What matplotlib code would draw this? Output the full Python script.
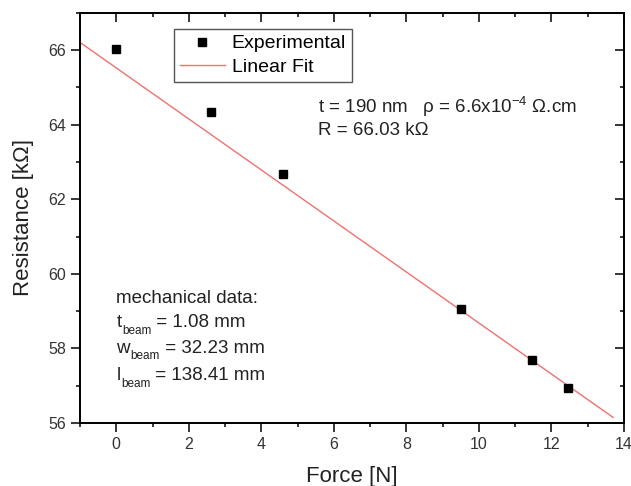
import matplotlib
matplotlib.use("Agg")
import matplotlib.pyplot as plt
from matplotlib.ticker import MultipleLocator
import numpy as np

plt.rcParams["font.family"] = ["Liberation Sans", "DejaVu Sans"]
plt.rcParams["mathtext.fontset"] = "custom"
plt.rcParams["mathtext.rm"] = "Liberation Sans"
plt.rcParams["mathtext.it"] = "Liberation Sans:italic"

# data
force = [0.0, 2.62, 4.60, 9.50, 11.45, 12.45]
resistance = [66.03, 64.35, 62.68, 59.05, 57.68, 56.95]
# linear fit: R = intercept + slope * F, drawn over this force range
fit_intercept = 65.52
fit_slope = -0.684
fit_range = [-1.0, 13.7]

# mechanical data lines: (symbol, subscript, rest)
mech_lines = [("t", "beam", " = 1.08 mm"),
              ("w", "beam", " = 32.23 mm"),
              ("l", "beam", " = 138.41 mm")]

W, H = 631, 486
fig = plt.figure(figsize=(W / 100, H / 100), dpi=100)
ax = fig.add_axes([80 / W, 1 - 423 / H, (624 - 80) / W, (423 - 12.7) / H])

fx = np.array(fit_range)
ax.plot(fx, fit_intercept + fit_slope * fx, color="#f07070", lw=1.0,
        label="Linear Fit", zorder=2)
ax.plot(force, resistance, "s", color="black", markersize=5.5,
        linestyle="none", label="Experimental", zorder=3)

ax.set_xlim(-1, 14)
ax.set_ylim(56, 67)


def style_axis(axis, direction, labels):
    axis.set_major_locator(MultipleLocator(2))
    axis.set_minor_locator(MultipleLocator(1))
    axis.set_tick_params(which="both", direction=direction, width=1.1)
    axis.set_tick_params(which="major", length=6.5, labelsize=11.5,
                         labelcolor="#333333", pad=3.5)
    axis.set_tick_params(which="minor", length=3)
    if not labels:
        axis.set_tick_params(which="both", labeltop=False,
                             labelright=False)


style_axis(ax.xaxis, "out", True)
style_axis(ax.yaxis, "out", True)
# top / right ticks point inward
top = ax.twiny()
right = ax.twinx()
top.set_xlim(ax.get_xlim())
right.set_ylim(ax.get_ylim())
style_axis(top.xaxis, "in", False)
style_axis(right.yaxis, "in", False)
top.yaxis.set_visible(False)
right.xaxis.set_visible(False)
for a in (ax, top, right):
    for s in a.spines.values():
        s.set_linewidth(1.1)

ax.set_xlabel("Force [N]", fontsize=16, color="#222222", labelpad=10)
ax.set_ylabel("Resistance [k\u03a9]", fontsize=16, color="#222222",
              labelpad=10)

handles, labels = ax.get_legend_handles_labels()
leg = ax.legend(handles[::-1], labels[::-1], loc="upper left",
                bbox_to_anchor=((174 - 80) / 544, 1 - (29 - 12.7) / 410.3),
                borderaxespad=0, fontsize=14, frameon=True, fancybox=False,
                edgecolor="#555555", handlelength=2.3, handletextpad=0.36,
                borderpad=0.3, labelspacing=0.3, framealpha=1)
leg.get_frame().set_linewidth(1.0)

ax.text(5.57, 64.31,
        "t = 190 nm   \u03c1 = 6.6x10$^{-4}$ \u03a9.cm",
        fontsize=13.5, color="#222222", va="baseline")
ax.text(5.57, 63.72, "R = 66.03 k\u03a9", fontsize=13.5, color="#222222",
        va="baseline")

ax.text(0.0, 59.22, "mechanical data:", fontsize=13.5, color="#222222",
        va="baseline")
mech_y = [58.57, 57.88, 57.15]
for (sym, sub, rest), y in zip(mech_lines, mech_y):
    main = ax.text(0.0, y, sym, fontsize=13.5, color="#222222",
                   va="baseline")
    s = ax.annotate(sub, xy=(1, 0), xycoords=main, xytext=(0.3, -3.9),
                    textcoords="offset points", fontsize=8.5,
                    color="#222222", va="bottom", ha="left")
    ax.annotate(rest, xy=(1, 0), xycoords=s, xytext=(0, 3.9),
                textcoords="offset points", fontsize=13.5,
                color="#222222", va="bottom", ha="left")

fig.savefig("out.png", dpi=100)
